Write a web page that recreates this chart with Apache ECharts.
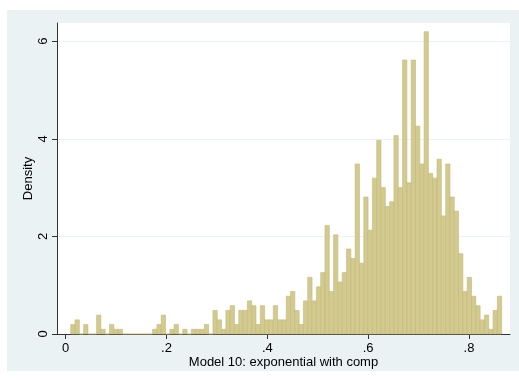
<!DOCTYPE html>
<html>
<head>
<meta charset="utf-8">
<script src="https://cdn.jsdelivr.net/npm/echarts@6/dist/echarts.min.js"></script>
<style>
  html, body { margin: 0; padding: 0; background: #ffffff; }
  #chart { width: 519px; height: 380px; }
</style>
</head>
<body>
<div id="chart"></div>
<script>
// Histogram: density per bin (100 bins)
const binStart = 0.0099;
const binWidth = 0.00855;
const densities = [
  0.194, 0.290, 0, 0.194, 0, 0, 0.387, 0.097, 0, 0.194,
  0.097, 0.097, 0, 0, 0, 0, 0, 0, 0, 0.097,
  0.194, 0.387, 0, 0.097, 0.194, 0, 0.097, 0, 0.097, 0.097,
  0.097, 0.194, 0, 0.484, 0.290, 0.097, 0.484, 0.581, 0.194, 0.484,
  0.484, 0.678, 0.581, 0.194, 0.581, 0.290, 0.290, 0.581, 0.290, 0.290,
  0.774, 0.871, 0.484, 0.194, 0.678, 1.162, 0.678, 0.968, 1.258, 2.226,
  0.871, 2.033, 1.065, 1.258, 1.742, 1.549, 3.485, 1.452, 2.807, 2.130,
  3.194, 3.969, 3.001, 2.614, 2.710, 4.066, 3.001, 5.614, 3.098, 5.614,
  4.259, 3.485, 6.195, 3.291, 3.194, 3.582, 2.420, 3.485, 2.807, 2.517,
  1.646, 0.871, 1.162, 0.774, 0.581, 0.290, 0.387, 0.097, 0.484, 0.774
];
const xTicks = [0, 0.2, 0.4, 0.6, 0.8];
const yTicks = [0, 2, 4, 6];
const xTitle = 'Model 10: exponential with comp';
const yTitle = 'Density';

const barData = densities.map((d, i) => [binStart + i * binWidth, binStart + (i + 1) * binWidth, d]);

const fmt = v => {
  if (v === 0) return '0';
  let s = String(Math.round(v * 100) / 100);
  return s.replace(/^0\./, '.');
};

const chart = echarts.init(document.getElementById('chart'), null, { renderer: 'canvas' });
const font = "'Liberation Sans', Arial, Helvetica, sans-serif";
chart.setOption({
  animation: false,
  backgroundColor: '#ffffff',
  textStyle: { fontFamily: font },
  graphic: [{
    type: 'rect',
    z: -10,
    silent: true,
    shape: { x: 7, y: 10, width: 512, height: 361 },
    style: { fill: '#EAF2F3' }
  }],
  grid: {
    left: 57, top: 23, right: 9, bottom: 46,
    show: true, backgroundColor: '#ffffff', borderWidth: 0
  },
  xAxis: {
    type: 'value',
    min: -0.0173, max: 0.8814,
    name: xTitle,
    nameLocation: 'middle',
    nameGap: 22,
    nameMoveOverlap: false,
    nameTextStyle: { color: '#000', fontSize: 13, fontFamily: font },
    axisLine: { show: true, onZero: false, lineStyle: { color: '#333', width: 1 } },
    axisTick: { show: true, length: 5, customValues: xTicks, lineStyle: { color: '#333' } },
    axisLabel: { show: true, customValues: xTicks, formatter: fmt, color: '#000', fontSize: 13, margin: 8, fontFamily: font },
    splitLine: { show: false }
  },
  yAxis: {
    type: 'value',
    min: 0, max: 6.373, interval: 2,
    name: yTitle,
    nameLocation: 'middle',
    nameGap: 22,
    nameMoveOverlap: false,
    nameRotate: 90,
    nameTextStyle: { color: '#000', fontSize: 13, fontFamily: font },
    axisLine: { show: true, onZero: false, lineStyle: { color: '#333', width: 1 } },
    axisTick: { show: true, length: 5, customValues: yTicks, lineStyle: { color: '#333' } },
    axisLabel: { show: true, customValues: yTicks, formatter: fmt, rotate: 90, color: '#000', fontSize: 13, margin: 7, fontFamily: font },
    splitLine: { show: true, lineStyle: { color: '#EAF2F3', width: 1 } }
  },
  series: [{
    type: 'custom',
    data: barData,
    encode: { x: [0, 1], y: 2 },
    renderItem: function (params, api) {
      const p0 = api.coord([api.value(0), api.value(2)]);
      const p1 = api.coord([api.value(1), 0]);
      return {
        type: 'rect',
        shape: { x: p0[0], y: p0[1], width: p1[0] - p0[0], height: p1[1] - p0[1] },
        style: { fill: '#D3CA90', stroke: '#C3B879', lineWidth: 0.6 }
      };
    }
  }]
});
</script>
</body>
</html>
